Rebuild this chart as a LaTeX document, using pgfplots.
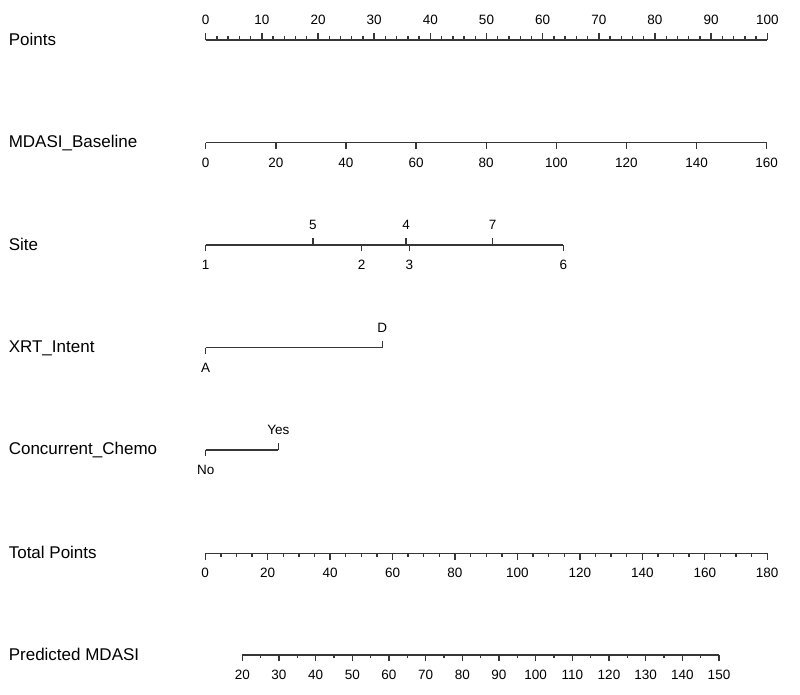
\documentclass[border=0pt]{standalone}
\usepackage{fontspec}
\setmainfont{Liberation Sans}
\usepackage{pgfplots}
\pgfplotsset{compat=1.18}
\definecolor{axgray}{HTML}{363636}
\pgfplotsset{
  nomo/.style={
    scale only axis, height=1pt, ymin=0, ymax=1,
    axis y line=none,
    every tick/.style={axgray, line width=1.4pt},
    major tick length=6.5pt, minor tick length=3.5pt,
    ticklabel style={font=\fontsize{13.5}{13.5}\selectfont, text=black},
    xticklabel shift=5pt,
    /pgf/number format/assume math mode=true,
    clip=false,
  },
  topax/.style={nomo, axis x line=top, axis line style={-, axgray, line width=1.4pt},
    xtick pos=upper, xticklabel pos=upper, xtick align=outside},
  botax/.style={nomo, axis x line=bottom, axis line style={-, axgray, line width=1.4pt},
    xtick pos=lower, xticklabel pos=lower, xtick align=outside},
}
\begin{document}
\begin{tikzpicture}
\useasboundingbox (0,0) rectangle (800pt,695pt);
\tikzset{rowlab/.style={anchor=base west, inner sep=0pt, font=\fontsize{17}{17}\selectfont}}
\node[rowlab] at (8.6pt,649pt) {Points};
\node[rowlab] at (8.6pt,547.3pt) {MDASI\_Baseline};
\node[rowlab] at (8.6pt,444.7pt) {Site};
\node[rowlab] at (8.6pt,342pt) {XRT\_Intent};
\node[rowlab] at (8.6pt,240pt) {Concurrent\_Chemo};
\node[rowlab] at (8.6pt,136.7pt) {Total Points};
\node[rowlab] at (8.6pt,34pt) {Predicted MDASI};

% Points
\begin{axis}[topax, at={(205.7pt,655pt)}, anchor=north west, width=561.6pt,
  xmin=0, xmax=100, xtick={0,10,...,100}, minor x tick num=4]
\end{axis}
% MDASI_Baseline
\begin{axis}[botax, at={(205.7pt,552.3pt)}, anchor=south west, width=561pt,
  xmin=0, xmax=160, xtick={0,20,...,160}]
\end{axis}
% Site (points scale)
\begin{axis}[topax, at={(205.7pt,450pt)}, anchor=north west, width=357.6pt,
  xmin=0, xmax=63.67, xtick={19.07,35.67,51.1}, xticklabels={5,4,7}]
\end{axis}
\begin{axis}[botax, at={(205.7pt,450pt)}, anchor=south west, width=357.6pt,
  xmin=0, xmax=63.67, xtick={0,27.76,36.27,63.67}, xticklabels={1,2,3,6}]
\end{axis}
% XRT_Intent
\begin{axis}[topax, at={(205.7pt,347.3pt)}, anchor=north west, width=176.6pt,
  xmin=0, xmax=31.45, xtick={31.45}, xticklabels={D}]
\end{axis}
\begin{axis}[botax, at={(205.7pt,347.3pt)}, anchor=south west, width=176.6pt,
  xmin=0, xmax=31.45, xtick={0}, xticklabels={A}]
\end{axis}
% Concurrent_Chemo
\begin{axis}[topax, at={(205.7pt,245pt)}, anchor=north west, width=72.6pt,
  xmin=0, xmax=12.93, xtick={12.93}, xticklabels={Yes}]
\end{axis}
\begin{axis}[botax, at={(205.7pt,245pt)}, anchor=south west, width=72.6pt,
  xmin=0, xmax=12.93, xtick={0}, xticklabels={No}]
\end{axis}
% Total Points
\begin{axis}[botax, at={(205.2pt,141.7pt)}, anchor=south west, width=562pt,
  xmin=0, xmax=180, xtick={0,20,...,180}, minor x tick num=3]
\end{axis}
% Predicted MDASI
\begin{axis}[botax, at={(242.3pt,40pt)}, anchor=south west, width=476.7pt,
  xmin=20, xmax=150, xtick={20,30,...,150}, minor x tick num=1]
\end{axis}
\end{tikzpicture}
\end{document}
